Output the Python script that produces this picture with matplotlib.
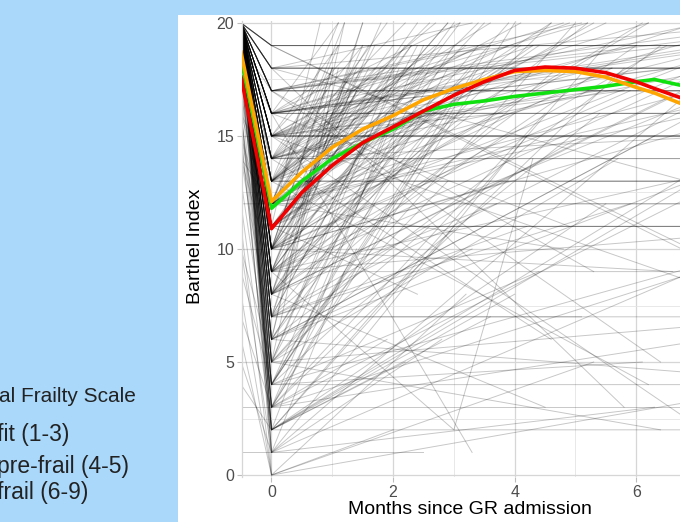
import matplotlib.pyplot as plt
from matplotlib.patches import Rectangle

plt.rcParams['font.family'] = ['Liberation Sans', 'DejaVu Sans']

# one entry per patient: Barthel score before admission (month -0.5),
# at admission (month 0) and at the follow-up visit
pre_score = [20, 18, 20,
             # flat after admission
             20, 20, 20, 20, 20, 20, 20, 20, 20, 20, 20, 20, 20, 20, 20, 20,
             20, 20, 20, 20, 20, 20, 20, 20, 20, 20, 20, 20, 20, 20, 20, 20,
             3, 1, 4,
             # recovering
             20, 20, 19, 20, 20, 18, 20, 20, 20, 20,
             20, 17, 20, 20, 20, 20, 19, 20, 20, 20,
             20, 20, 20, 16, 20, 20, 20, 18, 20, 20,
             20, 20, 20, 20, 15, 20, 20, 20, 19, 20,
             20, 20, 20, 20, 18, 20, 20, 20, 20, 17,
             19, 20, 20, 20, 20, 20, 20, 20, 14, 20,
             20, 20, 20, 20, 20, 18, 20, 20, 20, 20,
             20, 19, 20, 20, 20, 20, 16, 20, 20, 20,
             20, 20, 20, 20, 20, 20, 20, 19, 20, 12,
             20, 20, 18, 20, 20, 20, 20, 20, 20, 20,
             # poor outcome
             20, 15, 18, 10, 20, 16, 20, 12, 19, 8, 20, 17, 5, 20, 14, 20, 13, 20, 18, 7,
             11, 20, 16, 19, 20, 9, 15, 20, 17, 20, 14, 20, 18, 6, 20, 10, 16, 20, 19, 15,
             # declining
             20, 20, 20, 20, 19, 20, 20, 18, 20, 20, 20, 20,
             # mild dip, good recovery
             20, 20, 19, 20, 20, 20, 18, 20, 20, 20,
             20, 20, 20, 19, 20, 20, 20, 20, 20, 20,
             20, 18, 20, 20, 20, 20, 20, 19, 20, 20,
             20, 20, 20, 20, 17, 20, 20, 20, 20, 20,
             20, 20, 19, 20, 20, 20, 20, 20, 20, 18,
             20, 20, 20, 20, 20, 19, 20, 20, 20, 20,
             20, 20, 20, 20, 18, 20, 20, 20, 20, 20,
             19, 20, 20, 20, 20, 20, 16, 20, 20, 20]

adm_score = [9, 4, 12,
             19, 19, 19, 19, 18, 18, 18, 18, 17, 17, 17, 17, 16, 16, 16, 15,
             15, 15, 15, 14, 14, 13, 13, 13, 12, 12, 11, 11, 11, 9, 7, 4,
             3, 1, 2,
             5, 8, 12, 3, 15, 10, 7, 14, 2, 17,
             9, 11, 6, 13, 4, 16, 10, 1, 12, 8,
             14, 7, 10, 3, 18, 12, 5, 9, 15, 11,
             6, 13, 8, 16, 2, 10, 12, 4, 14, 9,
             11, 15, 3, 7, 12, 17, 5, 10, 13, 8,
             4, 9, 14, 6, 11, 2, 16, 8, 12, 10,
             13, 5, 10, 15, 7, 3, 12, 9, 6, 14,
             8, 12, 2, 10, 16, 6, 11, 4, 13, 9,
             7, 10, 15, 3, 11, 13, 5, 17, 8, 12,
             10, 6, 14, 9, 1, 12, 8, 11, 4, 15,
             0, 2, 3, 1, 5, 4, 6, 2, 8, 0, 3, 7, 1, 5, 9, 2, 4, 10, 6, 3,
             0, 12, 5, 2, 7, 4, 8, 1, 3, 11, 6, 2, 9, 0, 4, 5, 1, 7, 3, 10,
             17, 18, 15, 19, 16, 14, 18, 13, 17, 15, 19, 16,
             10, 14, 12, 16, 8, 11, 13, 15, 9, 17,
             12, 6, 14, 10, 16, 11, 13, 7, 15, 18,
             9, 12, 14, 11, 16, 8, 13, 10, 15, 12,
             17, 10, 13, 6, 14, 11, 9, 16, 12, 15,
             11, 8, 14, 13, 10, 16, 12, 7, 15, 9,
             13, 11, 17, 10, 14, 12, 8, 16, 11, 13,
             5, 9, 12, 15, 10, 14, 7, 11, 16, 13,
             12, 10, 14, 8, 15, 11, 13, 9, 16, 12]

fu_month = [3.0, 1.2, 2.5,
            9, 8, 10, 7.5, 9, 8.5, 10, 7.2, 9, 8, 10, 7.6, 9, 6.5, 8, 9,
            8, 10, 7.4, 9, 8, 9, 8, 10, 9, 8, 9, 8, 10, 9, 9, 9,
            9, 2.5, 8,
            2.1, 3.4, 1.2, 4.5, 6.2, 0.9, 5.1, 2.8, 7.3, 8.5,
            1.8, 5.6, 3.1, 9.2, 2.5, 1.1, 7.9, 4.2, 3.7, 6.8,
            4.8, 1.5, 2.3, 5.8, 3.3, 7.1, 1.0, 8.8, 2.0, 4.1,
            6.4, 1.7, 3.9, 2.6, 9.5, 1.3, 5.3, 2.9, 7.6, 3.2,
            2.4, 1.4, 1.9, 4.7, 8.1, 3.6, 5.0, 2.2, 1.6, 6.0,
            3.0, 7.4, 2.7, 1.2, 4.4, 5.5, 6.6, 1.8, 9.8, 3.5,
            1.1, 2.6, 5.9, 3.8, 8.9, 4.0, 2.3, 1.4, 6.3, 7.0,
            4.6, 3.2, 2.0, 1.0, 5.2, 7.7, 1.6, 3.6, 2.5, 8.3,
            1.3, 6.1, 4.3, 3.4, 2.9, 1.9, 5.7, 2.4, 9.0, 4.9,
            2.2, 1.1, 7.5, 3.0, 6.9, 1.5, 4.0, 8.6, 2.7, 5.4,
            3.2, 5.5, 1.9, 7.8, 2.6, 4.4, 6.9, 2.2, 3.7, 8.5, 1.4, 5.1, 6.3, 2.9, 9.1, 4.0, 1.7, 6.6, 3.3, 7.2,
            2.0, 4.8, 8.8, 3.0, 5.9, 6.1, 4.5, 1.2, 7.4, 2.4, 9.4, 3.6, 1.6, 5.3, 8.0, 6.4, 2.8, 4.2, 7.0, 3.9,
            6.4, 5.8, 7.5, 6.9, 3.3, 4.6, 8.2, 6.2, 5.3, 7.1, 9.0, 4.9,
            1.5, 2.2, 0.8, 3.1, 1.2, 4.4, 2.6, 1.9, 5.2, 6.7,
            1.0, 2.4, 3.6, 1.7, 7.8, 2.9, 0.9, 1.6, 4.9, 8.4,
            1.3, 2.0, 0.7, 3.4, 5.6, 1.9, 2.7, 6.2, 1.1, 3.8,
            9.3, 1.4, 2.3, 3.0, 4.1, 1.8, 2.5, 7.1, 1.6, 5.8,
            0.8, 3.3, 1.5, 2.1, 8.8, 1.2, 4.6, 2.8, 3.5, 6.5,
            1.7, 2.9, 5.1, 1.0, 3.9, 2.2, 1.4, 9.6, 4.3, 2.6,
            2.0, 3.1, 1.3, 6.0, 1.6, 8.0, 2.4, 1.9, 4.8, 3.2,
            1.1, 2.7, 7.4, 1.5, 3.6, 2.3, 5.5, 1.8, 10.0, 2.9]

fu_score = [2, 7, 17,
            19, 19, 19, 19, 18, 18, 18, 18, 17, 17, 17, 17, 16, 16, 16, 15,
            15, 15, 15, 14, 14, 13, 13, 13, 12, 12, 11, 11, 11, 9, 7, 4,
            3, 1, 2,
            18, 19, 20, 16, 20, 17, 15, 19, 14, 20,
            20, 18, 17, 20, 19, 20, 16, 15, 18, 17,
            17, 20, 19, 18, 20, 16, 17, 20, 18, 19,
            19, 18, 20, 17, 17, 15, 20, 18, 19, 16,
            20, 19, 15, 18, 17, 19, 20, 14, 16, 19,
            16, 17, 20, 20, 18, 19, 18, 15, 19, 20,
            20, 18, 17, 16, 19, 20, 14, 18, 15, 20,
            20, 19, 16, 18, 20, 17, 15, 19, 18, 14,
            17, 20, 19, 18, 16, 20, 14, 18, 20, 17,
            19, 18, 15, 20, 17, 18, 16, 20, 15, 17,
            8, 12, 6, 10, 11, 9, 13, 5, 12, 4, 10, 7, 3, 13, 11, 8, 12, 9, 10, 6,
            2, 10, 7, 11, 12, 5, 3, 9, 13, 8, 4, 7, 12, 5, 10, 2, 6, 11, 9, 13,
            5, 3, 8, 10, 1, 6, 12, 4, 9, 2, 7, 11,
            19, 20, 18, 20, 17, 19, 20, 18, 20, 19,
            18, 16, 20, 19, 19, 20, 17, 15, 20, 20,
            18, 19, 17, 20, 18, 16, 19, 20, 19, 18,
            20, 17, 18, 19, 20, 16, 18, 20, 19, 17,
            20, 18, 19, 17, 20, 18, 20, 16, 19, 19,
            17, 20, 20, 18, 19, 18, 17, 20, 19, 16,
            18, 20, 17, 19, 18, 20, 19, 17, 20, 18,
            19, 16, 18, 20, 17, 19, 20, 18, 19, 17]

# patients seen a second time after the first follow-up
second_id = [0, 1, 2]
fu2_month = [4.3, 5.4, 7.5]
fu2_score = [14, 16, 19]

# group means by Clinical Frailty Scale
mean_month = [-0.5, 0, 0.5, 1, 1.5, 2, 2.5, 3, 3.5, 4, 4.5, 5, 5.5, 6, 6.3, 6.72, 7]
fit_mean = [18.4, 11.8, 13.0, 14.0, 14.7, 15.3, 16.1, 16.4, 16.55, 16.75, 16.9, 17.05, 17.2, 17.4, 17.5, 17.25, 17.0]
prefrail_mean = [18.7, 12.1, 13.4, 14.5, 15.3, 15.9, 16.6, 17.1, 17.5, 17.85, 17.9, 17.85, 17.6, 17.15, 16.9, 16.45, 16.2]
frail_mean = [17.6, 10.9, 12.5, 13.7, 14.7, 15.4, 16.1, 16.8, 17.4, 17.9, 18.05, 18.0, 17.8, 17.4, 17.1, 16.7, 16.5]

groups = ['fit (1-3)', 'pre-frail (4-5)', 'frail (6-9)']
colors = ['#10e010', '#ffa500', '#f00000']

fig = plt.figure(figsize=(6.8, 5.22), dpi=100, facecolor='#a9d8fb')
fig.add_artist(Rectangle((178 / 680, 0), 1 - 178 / 680, 507 / 522, transform=fig.transFigure,
                         facecolor='white', edgecolor='none', zorder=-1))

ax = fig.add_axes([241.7 / 680, 44.7 / 522, 1 - 241.7 / 680, 456.6 / 522])
ax.set_facecolor('white')

for i in range(len(pre_score)):
    xs = [-0.5, 0, fu_month[i]]
    ys = [pre_score[i], adm_score[i], fu_score[i]]
    if i in second_id:
        j = second_id.index(i)
        xs.append(fu2_month[j])
        ys.append(fu2_score[j])
    ax.plot(xs, ys, color='black', alpha=0.22, lw=0.7, zorder=2)

for vals, c in zip([fit_mean, prefrail_mean, frail_mean], colors):
    ax.plot(mean_month, vals, color=c, lw=2.6, zorder=3, solid_joinstyle='round')

ax.set_xlim(-0.49, 6.72)
ax.set_ylim(-0.1, 20.1)
ax.set_xticks([0, 2, 4, 6])
ax.set_xticks([1, 3, 5], minor=True)
ax.set_yticks([0, 5, 10, 15, 20])
ax.set_yticks([2.5, 7.5, 12.5, 17.5], minor=True)
ax.grid(which='major', color='#d6d6d6', lw=0.9)
ax.grid(which='minor', color='#e4e4e4', lw=0.6)
ax.set_axisbelow(True)
ax.tick_params(which='major', length=3.5, width=0.8, color='#bdbdbd',
               labelsize=11.5, labelcolor='#4d4d4d', pad=2)
ax.tick_params(which='minor', length=0)
for s in ['top', 'right', 'bottom']:
    ax.spines[s].set_visible(False)
ax.spines['left'].set_color('#d6d6d6')
ax.spines['left'].set_linewidth(0.9)

fig.text(470 / 680, 1 - 510 / 522, 'Months since GR admission', fontsize=14,
         ha='center', va='center', color='black')
fig.text(195 / 680, 1 - 246 / 522, 'Barthel Index', fontsize=14, rotation=90,
         ha='center', va='center', color='black')

# legend sits on the blue area, cut off by the left edge as in the original
fig.text(136 / 680, 1 - 397 / 522, 'Clinical Frailty Scale', fontsize=15,
         ha='right', va='center', color='#222222')
for lab, yy in zip(groups, [435, 467, 493]):
    fig.text(-3 / 680, 1 - yy / 522, lab, fontsize=16.5, ha='left', va='center', color='#222222')

fig.savefig('out.png', dpi=100, facecolor=fig.get_facecolor())
